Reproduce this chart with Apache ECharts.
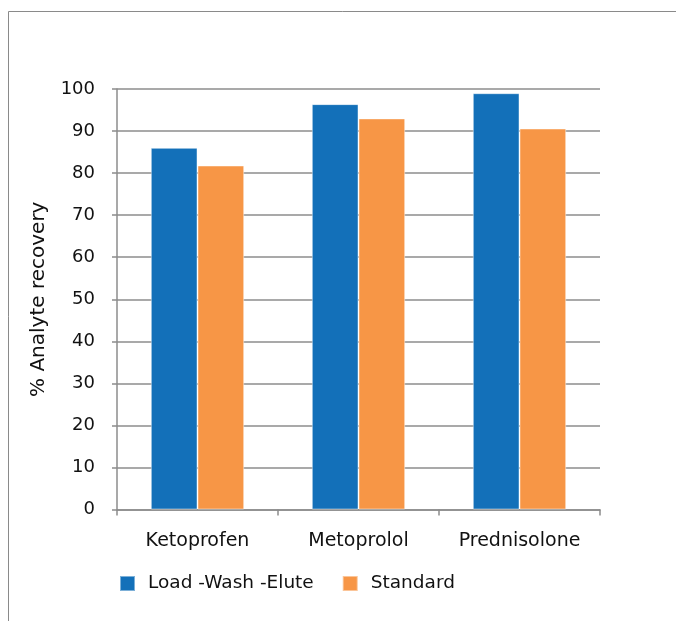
<!DOCTYPE html>
<html>
<head>
<meta charset="utf-8">
<script src="https://cdn.jsdelivr.net/npm/echarts@6/dist/echarts.min.js"></script>
<style>
html,body{margin:0;padding:0;background:#fff;}
#chart{width:676px;height:621px;}
</style>
</head>
<body>
<div id="chart"></div>
<script>
const categories = ['Ketoprofen', 'Metoprolol', 'Prednisolone'];
const loadWashElute = [86.0, 96.4, 99.0];
const standard = [81.8, 93.0, 90.6];
const seriesNames = ['Load -Wash -Elute', 'Standard'];
const yAxisTitle = '% Analyte recovery';

const FONT = '"DejaVu Sans", Verdana, sans-serif';
const chart = echarts.init(document.getElementById('chart'), null, {renderer: 'canvas'});
chart.setOption({
  animation: false,
  textStyle: {fontFamily: FONT},
  graphic: [{
    type: 'rect',
    shape: {x: 8.5, y: 11.5, width: 800, height: 800},
    style: {fill: 'none', stroke: '#8a8a8a', lineWidth: 1},
    silent: true
  }],
  grid: {left: 117, right: 76, top: 89, bottom: 111.5, containLabel: false},
  legend: {
    left: 114, top: 569,
    itemWidth: 15, itemHeight: 15, itemGap: 28,
    icon: 'rect',
    textStyle: {fontFamily: FONT, fontSize: 18.5, color: '#111', padding: [0, 0, 0, 8]},
    data: seriesNames
  },
  xAxis: {
    type: 'category',
    data: categories,
    axisLine: {lineStyle: {color: '#8c8c8c', width: 1.5}},
    axisTick: {show: true, length: 6, lineStyle: {color: '#8c8c8c', width: 1.5}},
    axisLabel: {fontFamily: FONT, fontSize: 19, color: '#111', margin: 22}
  },
  yAxis: {
    type: 'value',
    min: 0, max: 100, interval: 10,
    name: yAxisTitle,
    nameLocation: 'middle',
    nameRotate: 90,
    nameGap: 68,
    nameTextStyle: {fontFamily: FONT, fontSize: 20, color: '#111'},
    axisLine: {show: true, lineStyle: {color: '#8c8c8c', width: 1.5}},
    axisTick: {show: true, inside: false, length: 5, lineStyle: {color: '#8c8c8c', width: 1.5}},
    axisLabel: {fontFamily: FONT, fontSize: 18, color: '#111', margin: 22},
    splitLine: {show: true, lineStyle: {color: '#8c8c8c', width: 1.5}}
  },
  series: [
    {
      name: seriesNames[0], type: 'bar', data: loadWashElute,
      barGap: '0%', barCategoryGap: '42%',
      itemStyle: {color: '#1370b9', borderColor: 'rgba(255,255,255,0.45)', borderWidth: 1}
    },
    {
      name: seriesNames[1], type: 'bar', data: standard,
      barGap: '0%', barCategoryGap: '42%',
      itemStyle: {color: '#f79646', borderColor: 'rgba(255,255,255,0.45)', borderWidth: 1}
    }
  ]
});
</script>
</body>
</html>
